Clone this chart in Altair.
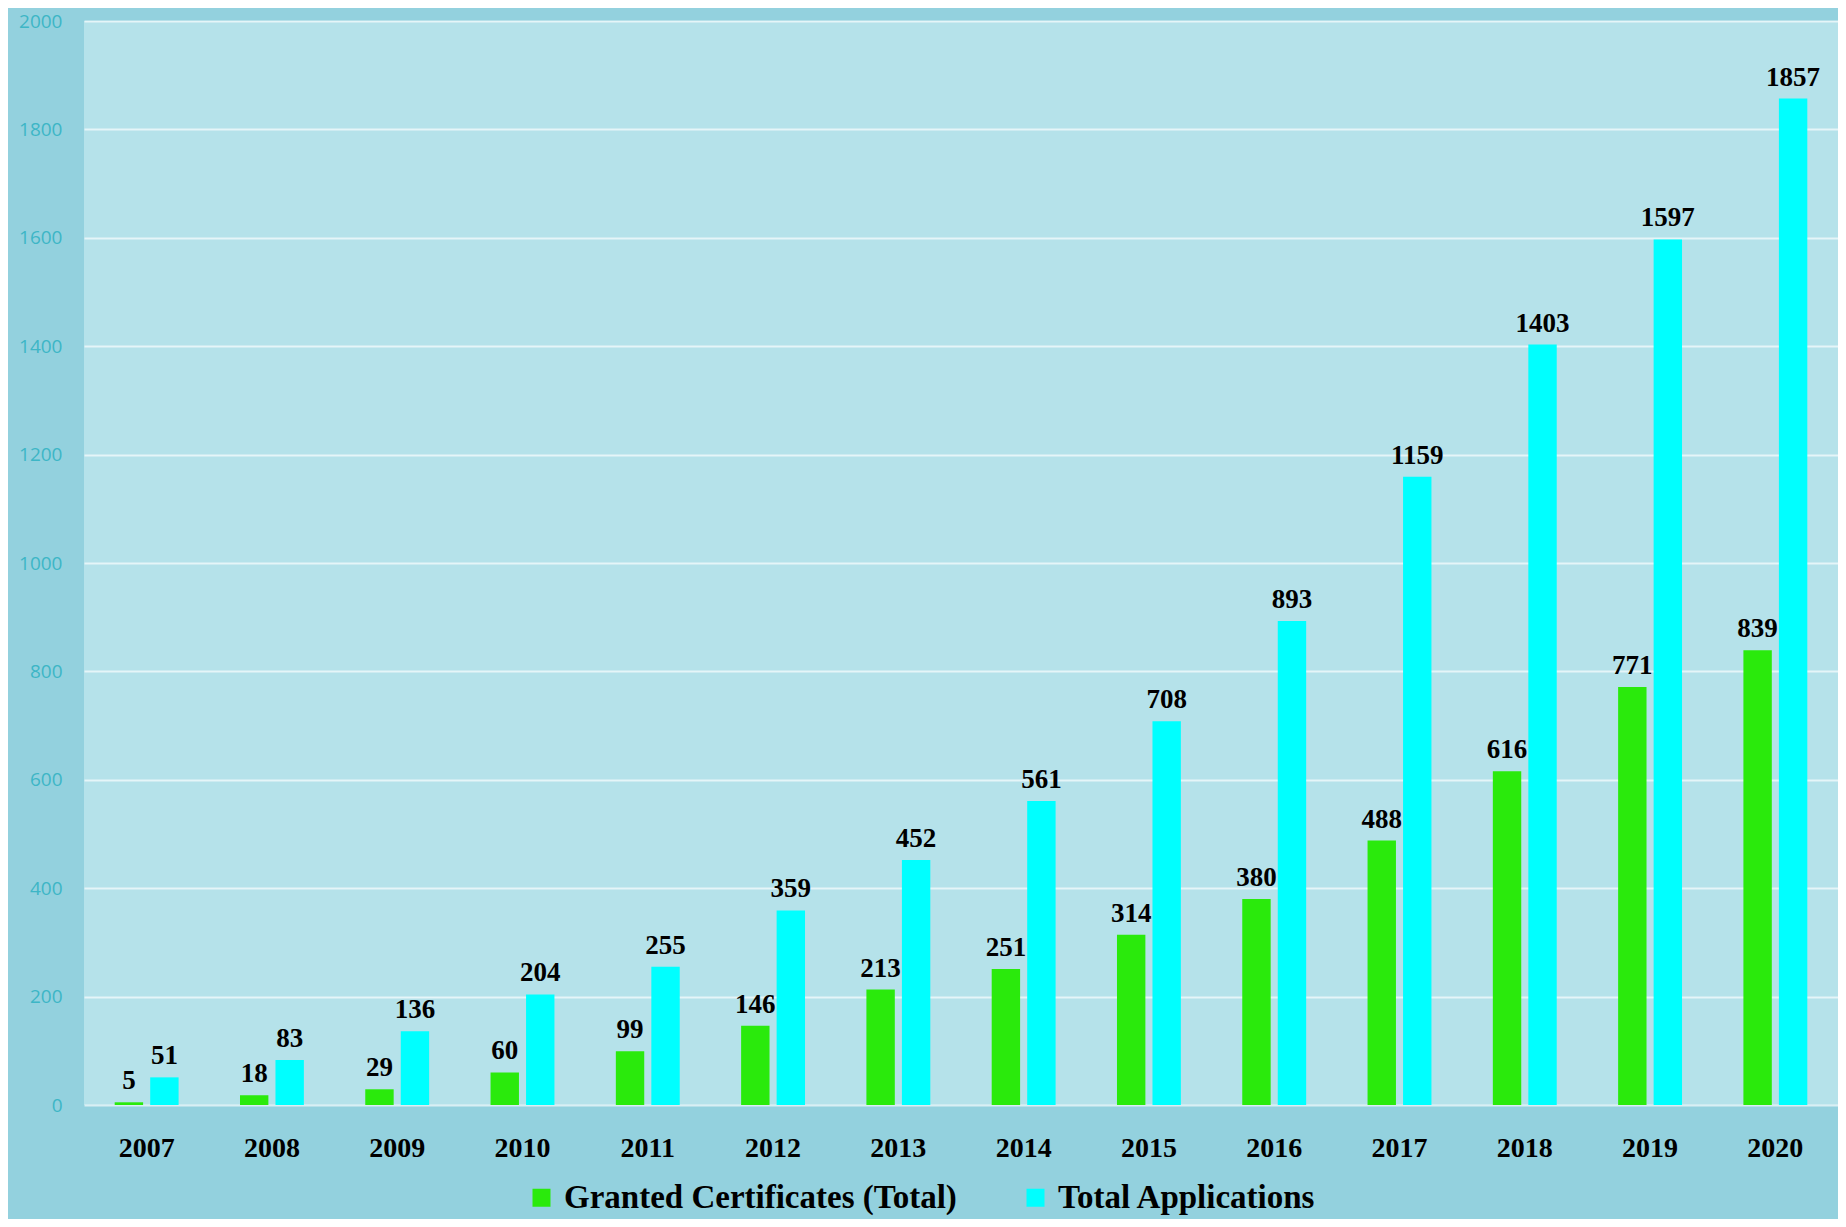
import altair as alt
import pandas as pd

years = ["2007", "2008", "2009", "2010", "2011", "2012", "2013",
         "2014", "2015", "2016", "2017", "2018", "2019", "2020"]
granted = [5, 18, 29, 60, 99, 146, 213, 251, 314, 380, 488, 616, 771, 839]
applications = [51, 83, 136, 204, 255, 359, 452, 561, 708, 893, 1159, 1403, 1597, 1857]
series_names = ["Granted Certificates (Total)", "Total Applications"]
series_colors = ["#2aea0c", "#00ffff"]
y_ticks = list(range(0, 2001, 200))

rows = []
for i, yr in enumerate(years):
    rows.append({"year": yr, "series": series_names[0], "value": granted[i]})
    rows.append({"year": yr, "series": series_names[1], "value": applications[i]})
df = pd.DataFrame(rows)

SERIF = "Liberation Serif"

x_enc = alt.X(
    "year:N",
    sort=years,
    scale=alt.Scale(paddingInner=0.49, paddingOuter=0.245),
    axis=alt.Axis(
        title=None, labelAngle=0, labelFont=SERIF, labelFontWeight="bold",
        labelFontSize=28, labelColor="black", labelPadding=29,
        ticks=False, domain=False, grid=False,
    ),
)
xoff_enc = alt.XOffset("series:N", sort=series_names,
                       scale=alt.Scale(paddingInner=0.2))
y_enc = alt.Y(
    "value:Q",
    scale=alt.Scale(domain=[0, 2000], nice=False),
    axis=alt.Axis(
        title=None, values=y_ticks, format="d", labelFont="Open Sans",
        labelFontSize=19, labelColor="#3db6c6", labelPadding=22,
        ticks=False, domain=False,
        grid=True, gridColor="white", gridOpacity=0.65, gridWidth=2,
    ),
)

base = alt.Chart(df)

bars = base.mark_bar().encode(
    x=x_enc,
    xOffset=xoff_enc,
    y=y_enc,
    color=alt.Color(
        "series:N",
        sort=series_names,
        scale=alt.Scale(domain=series_names, range=series_colors),
        legend=alt.Legend(
            title=None, orient="none", legendX=441, legendY=1160,
            direction="horizontal", symbolType="square", symbolSize=324,
            symbolStrokeWidth=0, labelFont=SERIF, labelFontWeight="bold",
            labelFontSize=33, labelColor="black", labelOffset=6,
            columnPadding=62, padding=0, labelLimit=600,
        ),
    ),
)

labels = base.mark_text(
    baseline="alphabetic", dy=-13, font=SERIF, fontWeight="bold",
    fontSize=27, color="black",
).encode(
    x=x_enc,
    xOffset=xoff_enc,
    y=y_enc,
    text=alt.Text("value:Q"),
)

chart = (
    alt.layer(bars, labels)
    .properties(
        width=1754, height=1084,
        autosize=alt.AutoSizeParams(type="none"),
        padding={"left": 76, "top": 13, "right": 0, "bottom": 114},
        background="#93d1de",
    )
    .configure_view(strokeWidth=0, fill="#b5e2ea")
)

chart.save("out.html", embed_options={"renderer": "svg", "actions": False})
